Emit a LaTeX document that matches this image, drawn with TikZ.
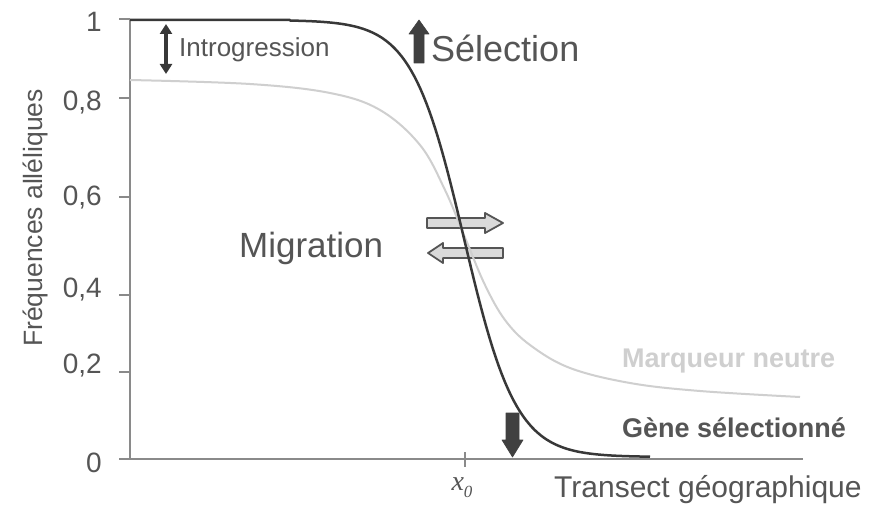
\documentclass[tikz,border=0pt]{standalone}
\usepackage{fontspec}
\setmainfont{Liberation Sans}
\newfontfamily\serifit{Liberation Serif}
\usetikzlibrary{arrows.meta}
\definecolor{txt}{HTML}{555555}
\definecolor{dk}{HTML}{383838}
\definecolor{lt}{HTML}{CFCFCF}
\definecolor{ax}{HTML}{8A8A8A}
\definecolor{blk}{HTML}{404040}
\definecolor{mfill}{HTML}{DADADA}
\tikzset{
  axisline/.style={draw=ax, line width=1.3pt},
  tickmark/.style={draw=ax, line width=1.1pt},
  ticklab/.style={anchor=east, text=txt, inner sep=0pt, font=\fontsize{28}{30}\selectfont},
  darkcurve/.style={draw=dk, line width=2.5pt, line join=round},
  lightcurve/.style={draw=lt, line width=2pt, line join=round},
  blockarrow/.style={fill=blk, draw=blk, line width=0.6pt, line join=round},
  migarrow/.style={fill=mfill, draw=txt, line width=1.8pt, line join=round},
  lab/.style={text=txt, inner sep=0pt},
}
\begin{document}
\begin{tikzpicture}[x=1pt,y=-1pt]
\useasboundingbox[fill=white] (0,0) rectangle (873,519);

% axes
\coordinate (ytop) at (130,19);
\coordinate (orig) at (130,459);
\coordinate (xend) at (803,459);
\draw[axisline] (ytop) -- (orig) -- (xend);

% y ticks and labels
\foreach \yy/\ly/\t [count=\i] in {19/22/1, 98/103/{0,8}, 197/198/{0,6}, 295/290/{0,4}, 372/366/{0,2}, 459/463/0}{
  \coordinate (tka\i) at (119,\yy);
  \coordinate (tkb\i) at (130,\yy);
  \draw[tickmark] (tka\i) -- (tkb\i);
  \node[ticklab] (yl\i) at (102,\ly) {\t};
}

% x tick
\coordinate (xta) at (465,452);
\coordinate (xtb) at (465,467);
\draw[tickmark] (xta) -- (xtb);
\node[lab, anchor=base, font=\serifit\itshape\fontsize{28}{30}\selectfont] (x0) at (462,490) {x\raisebox{-0.25em}{\fontsize{17}{18}\selectfont 0}};

% axis titles
\node[lab, rotate=90, font=\fontsize{26.5}{30}\selectfont] (ylab) at (35,218) {Fréquences alléliques};
\node[lab, anchor=base west, font=\fontsize{30}{32}\selectfont] (xlab) at (554,497) {Transect géographique};

% migration arrows
\path[migarrow] (427,218) -- (485,218) -- (485,213) -- (503,223) -- (485,233) -- (485,228) -- (427,228) -- cycle;
\path[migarrow] (503,248) -- (443,248) -- (443,243) -- (428,253) -- (443,263) -- (443,258) -- (503,258) -- cycle;

% curves
\draw[lightcurve] plot[smooth, tension=0.6] coordinates {(130,80) (250,84) (330,93) (380,110) (420,145) (445,190) (466,240) (485,285) (505,320) (530,345) (570,368) (630,383) (700,391) (800,397)};
\draw[darkcurve] (130,20) -- (290,20) -- plot[domain=290:650, samples=120] (\x, {20 + 437/(1+exp(-(\x-464)/26))});

% selection arrows
\path[blockarrow] (414,63) -- (414,34) -- (409,34) -- (419,20) -- (429,34) -- (424,34) -- (424,63) -- cycle;
\path[blockarrow] (506,413) -- (506,440) -- (502,440) -- (512.5,457) -- (523,440) -- (519,440) -- (519,413) -- cycle;

% introgression arrow
\coordinate (ia) at (166,24);
\coordinate (ib) at (166,74);
\draw[draw=dk, line width=3.2pt, {Triangle[length=10pt,width=12pt]}-{Triangle[length=10pt,width=12pt]}] (ia) -- (ib);

% labels
\node[lab, anchor=base west, font=\fontsize{26}{28}\selectfont] (intro) at (179,57) {Introgression};
\node[lab, anchor=base west, font=\fontsize{36}{38}\selectfont] (sel) at (431,62) {Sélection};
\node[lab, anchor=base west, font=\fontsize{35}{38}\selectfont] (mig) at (239,257) {Migration};
\node[lab, text=lt, anchor=base west, font=\bfseries\fontsize{27}{29}\selectfont] (neutre) at (622,367) {Marqueur neutre};
\node[lab, anchor=base west, font=\bfseries\fontsize{27}{29}\selectfont] (gene) at (622,437) {Gène sélectionné};
\end{tikzpicture}
\end{document}
